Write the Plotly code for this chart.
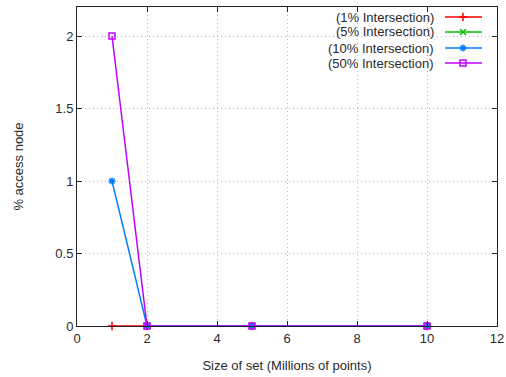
import plotly.graph_objects as go

# Data
sizes = [1, 2, 5, 10]
series_names = ["(1% Intersection)", "(5% Intersection)", "(10% Intersection)", "(50% Intersection)"]
pct_1 = [0, 0, 0, 0]
pct_5 = [None, 0, 0, 0]
pct_10 = [1, 0, 0, 0]
pct_50 = [2, 0, 0, 0]
x_ticks = [0, 2, 4, 6, 8, 10, 12]
x_tick_labels = ["0", "2", "4", "6", "8", "10", "12"]
y_ticks = [0, 0.5, 1, 1.5, 2]
y_tick_labels = ["0", "0.5", "1", "1.5", "2"]

values = [pct_1, pct_5, pct_10, pct_50]
colors = ["#ff0000", "#00c000", "#0080ff", "#c000ff"]
symbols = ["cross-thin-open", "x-thin-open", "asterisk-open", "square-open"]

FONT = "Liberation Sans"
TXT = "#2a2a2a"
W, H = 506, 377
L, R, T, B = 77, 9, 7, 51
pw, ph = W - L - R, H - T - B

fig = go.Figure()
for name, vals, c, s in zip(series_names, values, colors, symbols):
    fig.add_trace(go.Scatter(
        x=sizes, y=vals, name=name, mode="lines+markers",
        line=dict(color=c, width=1.5),
        marker=dict(symbol=s, size=6, color=c, line=dict(color=c, width=1.5)),
        showlegend=False, cliponaxis=False,
    ))

# gnuplot-style key (text left, sample right) drawn on a hidden overlay axis
def fx(px):
    return (px - L) / pw

def fy(py):
    return (T + ph - py) / ph

rows_px = [17, 32, 48, 63]
for name, c, s, rpx in zip(series_names, colors, symbols, rows_px):
    yy = fy(rpx)
    fig.add_trace(go.Scatter(
        x=[fx(445), fx(482)], y=[yy, yy], mode="lines",
        line=dict(color=c, width=1.5), xaxis="x2", yaxis="y2",
        showlegend=False, hoverinfo="skip"))
    fig.add_trace(go.Scatter(
        x=[fx(463)], y=[yy], mode="markers",
        marker=dict(symbol=s, size=6, color=c, line=dict(color=c, width=1.5)),
        xaxis="x2", yaxis="y2", showlegend=False, hoverinfo="skip"))
    fig.add_annotation(x=fx(436), y=yy, xref="paper", yref="paper",
                       text=name, showarrow=False, xanchor="right", yanchor="middle",
                       font=dict(family=FONT, size=13, color=TXT))

fig.add_shape(type="rect", xref="paper", yref="paper",
              x0=fx(292), x1=fx(490), y0=fy(70), y1=fy(10),
              fillcolor="white", line=dict(width=0), layer="between")

axis_common = dict(
    showline=True, linecolor="#222", linewidth=1, mirror="ticks",
    ticks="inside", ticklen=5, tickcolor="#222", tickwidth=1,
    showgrid=True, gridcolor="#b8b8b8", griddash="1px,3px", gridwidth=1,
    zeroline=False, automargin=False,
    tickfont=dict(family=FONT, size=13, color=TXT),
)

fig.update_layout(
    width=W, height=H,
    margin=dict(l=L, r=R, t=T, b=B, autoexpand=False),
    plot_bgcolor="white", paper_bgcolor="white",
    xaxis=dict(range=[0, 12], tickvals=x_ticks, ticktext=x_tick_labels,
               title=dict(text="Size of set (Millions of points)", standoff=16,
                          font=dict(family=FONT, size=13, color=TXT)),
               **axis_common),
    yaxis=dict(range=[0, 2.2], tickvals=y_ticks, ticktext=y_tick_labels,
               title=dict(text="% access node", standoff=28,
                          font=dict(family=FONT, size=13, color=TXT)),
               **axis_common),
    xaxis2=dict(overlaying="x", range=[0, 1], visible=False, anchor="y2"),
    yaxis2=dict(overlaying="y", range=[0, 1], visible=False, anchor="x2"),
)

fig.write_html("out.html", config={"displayModeBar": False},
               post_script="document.body.style.margin='0';document.body.style.overflow='hidden';")
